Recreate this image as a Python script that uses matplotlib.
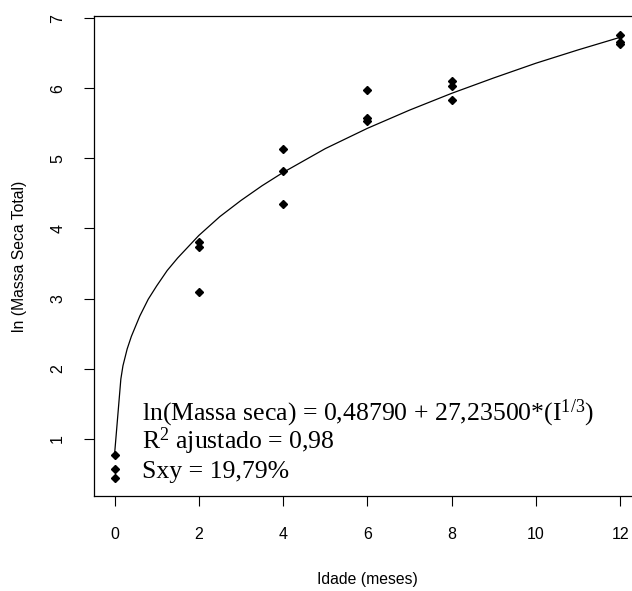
import numpy as np
import matplotlib.pyplot as plt

plt.rcParams['font.family'] = ['Liberation Sans', 'DejaVu Sans']
plt.rcParams['mathtext.fontset'] = 'custom'
plt.rcParams['mathtext.rm'] = 'Liberation Serif'
plt.rcParams['mathtext.it'] = 'Liberation Serif:italic'

# dados observados (idade em meses, ln da massa seca total)
idade = [0, 0, 0, 2, 2, 2, 4, 4, 4, 6, 6, 6, 8, 8, 8, 12, 12, 12]
ln_massa = [0.76, 0.57, 0.44, 3.80, 3.73, 3.09, 5.13, 4.82, 4.35,
            5.98, 5.58, 5.53, 6.11, 6.04, 5.84, 6.77, 6.66, 6.63]

# curva ajustada
curva_x = [0, 0.15, 0.2, 0.3, 0.4, 0.6, 0.8, 1, 1.25, 1.5, 2, 2.5, 3, 3.5,
           4, 5, 6, 7, 8, 9, 10, 11, 12]
curva_y = [0.77, 1.85, 2.04, 2.28, 2.46, 2.75, 2.99, 3.18, 3.40, 3.58, 3.90,
           4.17, 4.40, 4.61, 4.80, 5.14, 5.43, 5.69, 5.93, 6.15, 6.36, 6.55, 6.73]

xticks = [0, 2, 4, 6, 8, 10, 12]
yticks = [1, 2, 3, 4, 5, 6, 7]

W, H = 632, 591
fig = plt.figure(figsize=(W / 100, H / 100), dpi=100)
# eixo com a borda direita fora da figura, como no original
ax = fig.add_axes([94.3 / W, (H - 496) / H, (640.4 - 94.3) / W, (496 - 16.3) / H])

ax.plot(curva_x, curva_y, color='black', lw=0.9)
ax.plot(idade, ln_massa, 'D', color='black', ms=3.8)

ax.set_xlim(-0.48, 12.48)
ax.set_ylim(0.18, 7.03)
ax.set_xticks(xticks)
ax.set_yticks(yticks)
ax.tick_params(axis='both', direction='out', length=7, width=0.8,
               labelsize=11.5, pad=15)
ax.tick_params(axis='y', labelrotation=90, pad=14)
for lab in ax.get_yticklabels():
    lab.set_va('center')

for s in ax.spines.values():
    s.set_linewidth(0.9)

ax.set_xlabel('Idade (meses)', fontsize=11.3, labelpad=22)
ax.set_ylabel('ln (Massa Seca Total)', fontsize=11.3, labelpad=17)

# texto da equacao
fs = 18.5
ax.text(0.087, 0.158, r'ln(Massa seca) = 0,48790 + 27,23500*(I$^{1/3}$)',
        transform=ax.transAxes, fontsize=fs, family='Liberation Serif', va='baseline')
ax.text(0.087, 0.098, r'R$^{2}$ ajustado = 0,98',
        transform=ax.transAxes, fontsize=fs, family='Liberation Serif', va='baseline')
ax.text(0.087, 0.0375, 'Sxy = 19,79%',
        transform=ax.transAxes, fontsize=fs, family='Liberation Serif', va='baseline')

fig.savefig('out.png', dpi=100)
